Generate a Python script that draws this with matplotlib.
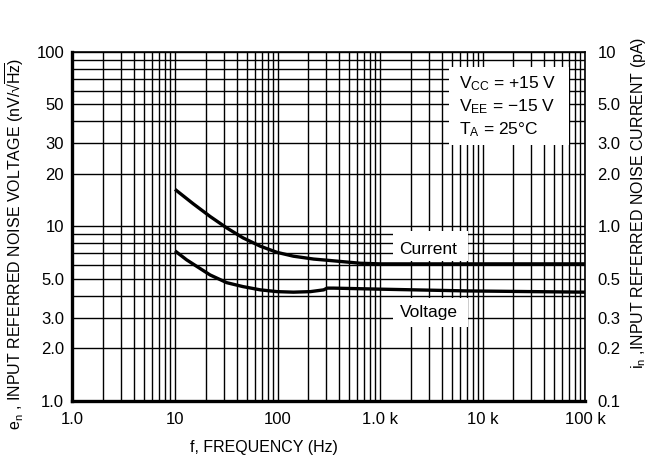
import matplotlib
matplotlib.use("Agg")
import matplotlib.pyplot as plt
from matplotlib.patches import Rectangle
from matplotlib.ticker import FixedLocator, FixedFormatter, NullFormatter, LogLocator

plt.rcParams['font.family'] = ['Liberation Sans', 'DejaVu Sans']
plt.rcParams['mathtext.default'] = 'regular'
plt.rcParams['mathtext.fontset'] = 'custom'
plt.rcParams['mathtext.rm'] = 'Liberation Sans'

# values
freq_current = [10, 15, 22, 32, 46, 68, 99, 143, 225, 304, 643, 1000, 10000, 100000]
current_pA = [1.63, 1.35, 1.14, 0.98, 0.86, 0.77, 0.71, 0.675, 0.65, 0.64, 0.615, 0.61, 0.61, 0.61]

freq_voltage = [10, 13, 22, 32, 46, 68, 99, 143, 209, 282, 304, 352, 1000, 7000, 100000]
voltage_nV = [7.24, 6.43, 5.27, 4.76, 4.52, 4.33, 4.23, 4.20, 4.23, 4.33, 4.43, 4.43, 4.37, 4.27, 4.20]

x_ticks = [1, 10, 100, 1000, 10000, 100000]
x_labels = ["1.0", "10", "100", "1.0 k", "10 k", "100 k"]
left_ticks = [1, 2, 3, 5, 10, 20, 30, 50, 100]
left_labels = ["1.0", "2.0", "3.0", "5.0", "10", "20", "30", "50", "100"]
right_ticks = [0.1, 0.2, 0.3, 0.5, 1, 2, 3, 5, 10]
right_labels = ["0.1", "0.2", "0.3", "0.5", "1.0", "2.0", "3.0", "5.0", "10"]

fig = plt.figure(figsize=(6.53, 4.63), dpi=100)
ax = fig.add_axes([0.111, 0.134, 0.785, 0.754])
ax.set_xscale("log")
ax.set_yscale("log")
ax.set_xlim(1, 1e5)
ax.set_ylim(1, 100)

ax.xaxis.set_major_locator(FixedLocator(x_ticks))
ax.xaxis.set_major_formatter(FixedFormatter(x_labels))
ax.xaxis.set_minor_locator(LogLocator(base=10, subs=range(2, 10)))
ax.xaxis.set_minor_formatter(NullFormatter())
ax.yaxis.set_major_locator(FixedLocator(left_ticks))
ax.yaxis.set_major_formatter(FixedFormatter(left_labels))
ax.yaxis.set_minor_locator(LogLocator(base=10, subs=range(2, 10)))
ax.yaxis.set_minor_formatter(NullFormatter())
ax.grid(True, which="both", color="black", lw=1.0)
ax.tick_params(which="both", length=0, labelsize=12)
ax.tick_params(axis="x", pad=8)
ax.tick_params(axis="y", pad=6)

for s in ["left", "bottom"]:
    ax.spines[s].set_linewidth(2.4)
for s in ["top", "right"]:
    ax.spines[s].set_linewidth(1.2)

ax.plot(freq_voltage, voltage_nV, color="black", lw=2.4, zorder=5, solid_capstyle="butt")

ax2 = ax.twinx()
ax2.set_yscale("log")
ax2.set_ylim(0.1, 10)
ax2.yaxis.set_major_locator(FixedLocator(right_ticks))
ax2.yaxis.set_major_formatter(FixedFormatter(right_labels))
ax2.yaxis.set_minor_locator(FixedLocator([]))
ax2.tick_params(which="both", length=0, labelsize=12, pad=9)
ax2.plot(freq_current, current_pA, color="black", lw=2.4, zorder=5, solid_capstyle="butt")
for s in ax2.spines.values():
    s.set_visible(False)

# white label boxes over the grid
for (x0, x1, y0, y1) in [(1324, 7160, 6.34, 9.43), (1324, 7160, 2.66, 3.89), (4667, 69500, 29.3, 82)]:
    ax.add_patch(Rectangle((x0, y0), x1 - x0, y1 - y0, facecolor="white",
                           edgecolor="none", zorder=4))
ax.text(2970, 7.35, "Current", fontsize=12.5, ha="center", va="center", zorder=6)
ax.text(2970, 3.2, "Voltage", fontsize=12.5, ha="center", va="center", zorder=6)
ax.text(5850, 74, "V$_{CC}$ = +15 V\nV$_{EE}$ = \u221215 V\nT$_A$ = 25\u00b0C",
        fontsize=12.5, ha="left", va="top", linespacing=1.3, zorder=6)

ax.set_xlabel("f, FREQUENCY (Hz)", fontsize=11.5)
ax.set_ylabel("e$_n$ , INPUT REFERRED NOISE VOLTAGE (nV/\u221a$\\overline{Hz}$)", fontsize=11.5)
ax2.set_ylabel("i$_n$ ,INPUT REFERRED NOISE CURRENT (pA)", fontsize=11.5, rotation=90)
ax.xaxis.set_label_coords(0.373, -0.112)
ax.yaxis.set_label_coords(-0.09, 0.45)
ax2.yaxis.set_label_coords(1.085, 0.567)

fig.savefig("out.png", dpi=100)
